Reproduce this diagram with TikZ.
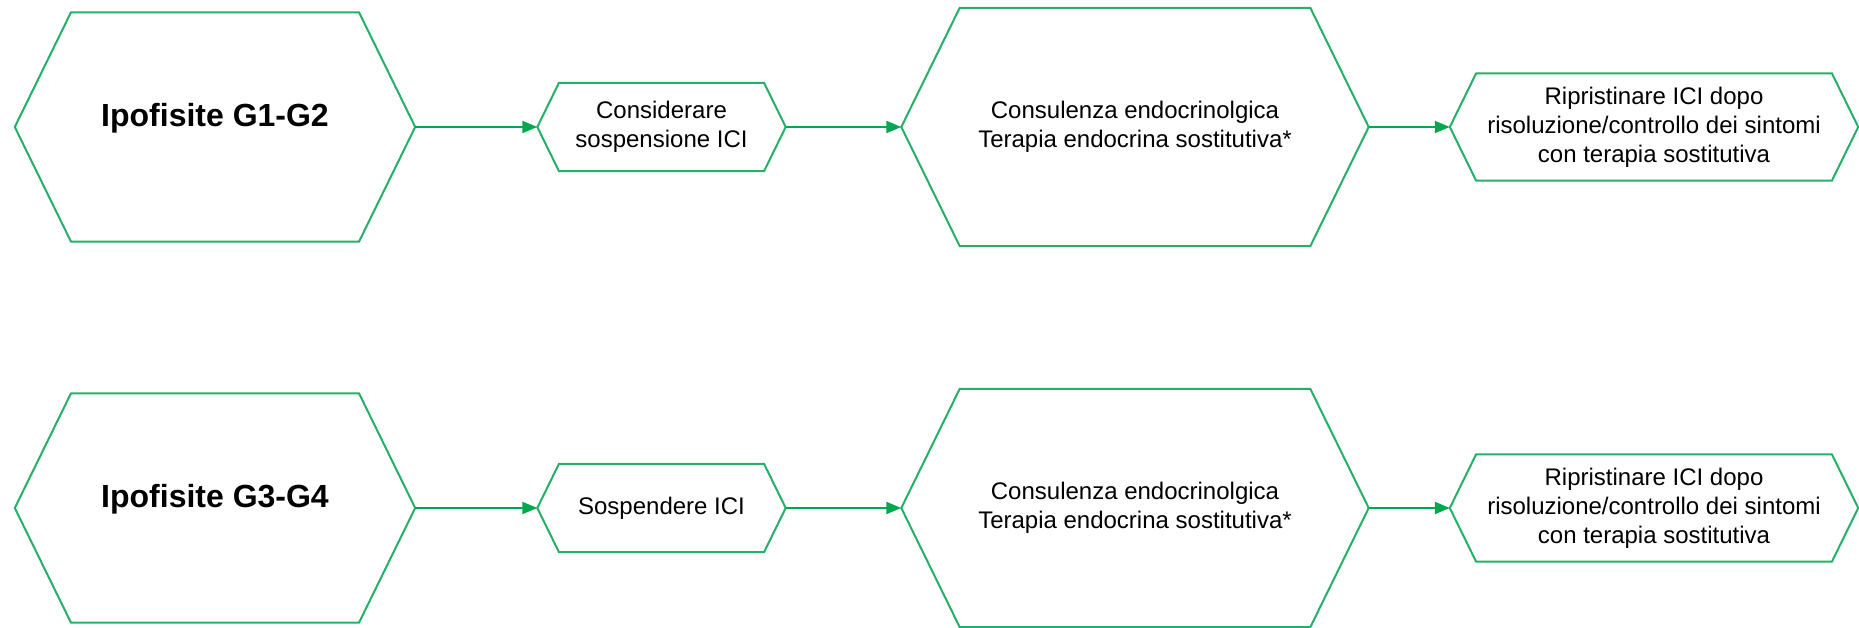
\documentclass[tikz,border=0pt]{standalone}
\usepackage{fontspec}
\setmainfont{Liberation Sans}
\usetikzlibrary{arrows.meta,calc}
\definecolor{hexgreen}{RGB}{36,176,104}
\definecolor{arrowgreen}{RGB}{0,168,80}

\begin{document}
\begin{tikzpicture}[x=1pt, y=-1pt,
  box/.style={inner sep=0pt, align=center, font=\fontsize{24}{29}\selectfont},
  bigbox/.style={inner sep=0pt, font=\fontsize{32}{38}\selectfont\bfseries, text height=23pt, text depth=24pt},
  hexline/.style={draw=hexgreen, line width=2pt, line join=miter},
  flow/.style={-{Triangle[length=15pt, width=12pt]}, draw=arrowgreen, line width=2pt}]
  \useasboundingbox (0,0) rectangle (1859,628);

  % G1-G2
  \node (g12) at (215, 127) [bigbox, minimum width=400pt, minimum height=229pt] {Ipofisite G1-G2};
  \node (c12) at (661.5, 127) [box, minimum width=248pt, minimum height=88pt] {Considerare\\sospensione ICI};
  \node (t12) at (1135, 127) [box, minimum width=467pt, minimum height=238pt] {Consulenza endocrinolgica\\Terapia endocrina sostitutiva*};
  \node (r12) at (1654, 127) [box, minimum width=408pt, minimum height=107pt] {Ripristinare ICI dopo\\risoluzione/controllo dei sintomi\\con terapia sostitutiva};

  % G3-G4
  \node (g34) at (215, 508) [bigbox, minimum width=400pt, minimum height=229pt] {Ipofisite G3-G4};
  \node (s34) at (661.5, 508) [box, minimum width=248pt, minimum height=88pt] {Sospendere ICI};
  \node (t34) at (1135, 508) [box, minimum width=467pt, minimum height=238pt] {Consulenza endocrinolgica\\Terapia endocrina sostitutiva*};
  \node (r34) at (1654, 508) [box, minimum width=408pt, minimum height=107pt] {Ripristinare ICI dopo\\risoluzione/controllo dei sintomi\\con terapia sostitutiva};

  \foreach \h in {g12,c12,t12,r12,g34,s34,t34,r34}
    \draw[hexline] let \p1=(\h.north), \p2=(\h.center), \n1={0.49*(\y1-\y2)} in
      (\h.west) -- ([xshift=\n1]\h.north west) -- ([xshift=-\n1]\h.north east) -- (\h.east)
      -- ([xshift=-\n1]\h.south east) -- ([xshift=\n1]\h.south west) -- cycle;

  \draw[flow] (g12.east) -- (c12.west);
  \draw[flow] (c12.east) -- (t12.west);
  \draw[flow] (t12.east) -- (r12.west);
  \draw[flow] (g34.east) -- (s34.west);
  \draw[flow] (s34.east) -- (t34.west);
  \draw[flow] (t34.east) -- (r34.west);
\end{tikzpicture}
\end{document}
